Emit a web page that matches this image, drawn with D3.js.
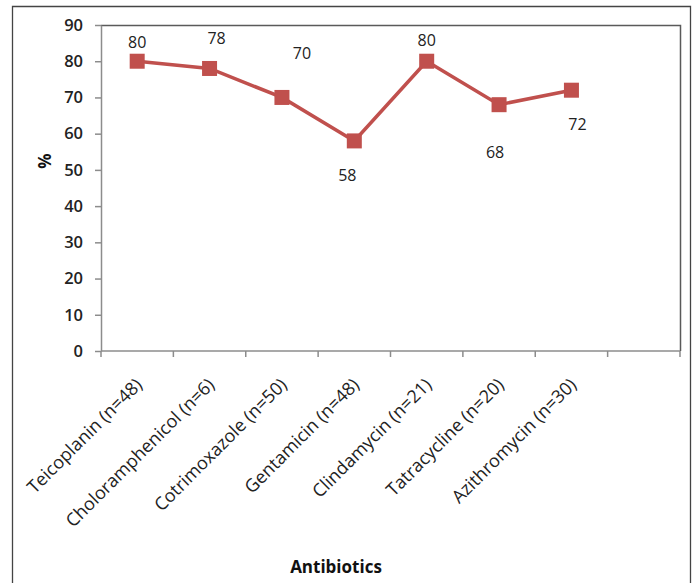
<!DOCTYPE html>
<html><head><meta charset="utf-8">
<script src="https://cdn.jsdelivr.net/npm/d3@7"></script>
<style>body{margin:0;background:#fff}svg{display:block}</style>
</head><body>
<svg id="c" width="696" height="583"></svg>
<script>
const categories = ["Teicoplanin (n=48)","Choloramphenicol (n=6)","Cotrimoxazole (n=50)","Gentamicin (n=48)","Clindamycin (n=21)","Tatracycline (n=20)","Azithromycin (n=30)"];
const values = [80,78,70,58,80,68,72];
const yTicks = [0,10,20,30,40,50,60,70,80,90];
const xTitle = "Antibiotics";
const yTitle = "%";
// label placement offsets (style, not data)
const labelOffsets = [[0,-19],[7,-30],[20,-44],[-7,34],[0,-21],[-4,47],[6,34]];

const svg = d3.select("#c");
const font = "'Open Sans', sans-serif";
const red = "#c0504d";
const L=101, R=680, T=25, B=351;

// outer frame
svg.append("path").attr("d","M12.5,600 V6.5 H690.5 V600").attr("fill","none").attr("stroke","#444").attr("stroke-width",1.3);

const slots = categories.concat([""]);
const x = d3.scaleBand().domain(d3.range(slots.length)).range([L,R]).paddingInner(0).paddingOuter(0);
const y = d3.scaleLinear().domain([0,90]).range([B,T]);

// plot border top/right
svg.append("path").attr("d",`M${L},${T+0.5} H${R+0.5} V${B}`).attr("fill","none").attr("stroke","#5a5a5a").attr("stroke-width",1.5);

// y axis
const yAxis = d3.axisLeft(y).tickValues(yTicks).tickSize(6).tickPadding(12).tickSizeOuter(0);
const gy = svg.append("g").attr("transform",`translate(${L},0)`).call(yAxis);
gy.select(".domain").attr("stroke","#8c8c8c").attr("stroke-width",1.5);
gy.selectAll(".tick line").attr("stroke","#8c8c8c").attr("stroke-width",1.5);
gy.selectAll(".tick text").attr("font-family",font).attr("font-size",16.5).attr("font-weight",600).attr("fill","#222");

// x axis
const xEdges = d3.range(slots.length+1).map(i => L + i*x.bandwidth());
svg.append("line").attr("x1",L).attr("x2",R).attr("y1",B).attr("y2",B).attr("stroke","#8c8c8c").attr("stroke-width",1.5);
svg.selectAll(".xt").data(xEdges).join("line").attr("x1",d=>d).attr("x2",d=>d).attr("y1",B).attr("y2",B+6).attr("stroke","#8c8c8c").attr("stroke-width",1.5);

svg.selectAll(".xl").data(categories).join("text")
  .attr("transform",(d,i)=>`translate(${x(i)+x.bandwidth()/2+6},${B+35}) rotate(-45)`)
  .attr("text-anchor","end").attr("font-family",font).attr("font-size",18).attr("fill","#222")
  .text(d=>d);

// line
const cx = i => x(i)+x.bandwidth()/2;
svg.append("path").datum(values)
  .attr("d",d3.line().x((d,i)=>cx(i)).y(d=>y(d)))
  .attr("fill","none").attr("stroke",red).attr("stroke-width",3.5);
const m=15;
svg.selectAll(".mk").data(values).join("rect")
  .attr("x",(d,i)=>cx(i)-m/2).attr("y",d=>y(d)-m/2).attr("width",m).attr("height",m).attr("fill",red);

// data labels
svg.selectAll(".dl").data(values).join("text")
  .attr("x",(d,i)=>cx(i)+labelOffsets[i][0]).attr("y",(d,i)=>y(d)+labelOffsets[i][1])
  .attr("text-anchor","middle").attr("dominant-baseline","central")
  .attr("font-family",font).attr("font-size",16).attr("fill","#222").text(d=>d);

// titles
svg.append("text").attr("x",336).attr("y",573).attr("text-anchor","middle")
  .attr("font-family",font).attr("font-size",17).attr("font-weight",700).attr("fill","#111").text(xTitle);
svg.append("text").attr("transform","translate(51,161) rotate(-90)").attr("text-anchor","middle")
  .attr("font-family",font).attr("font-size",17).attr("font-weight",700).attr("fill","#111").text(yTitle);
</script>
</body></html>
